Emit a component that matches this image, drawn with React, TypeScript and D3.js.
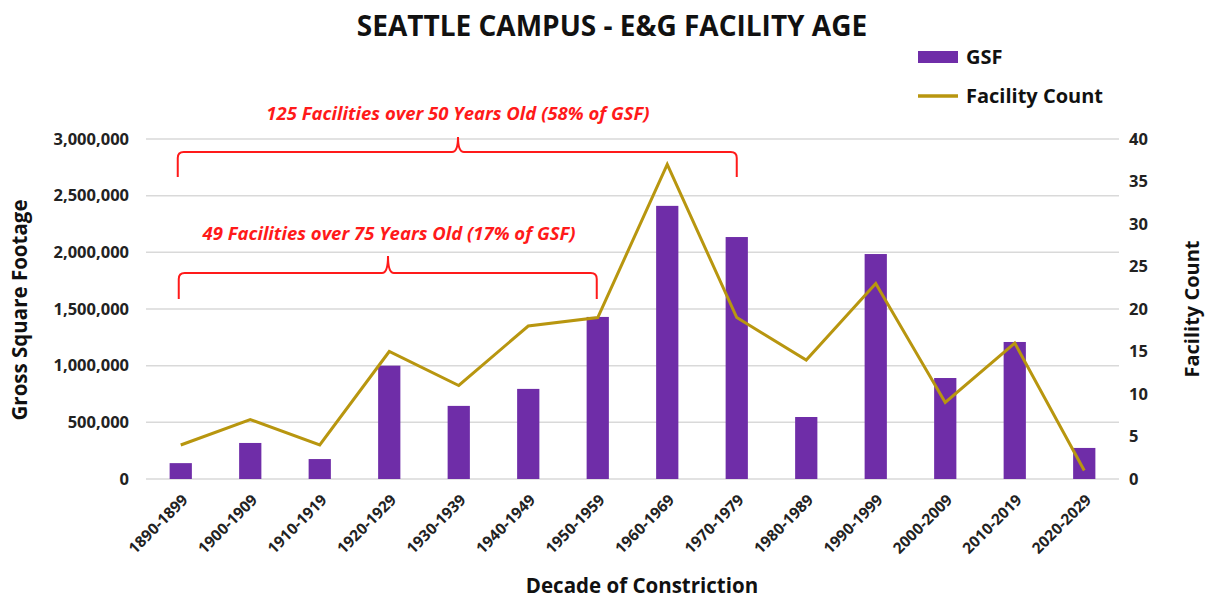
import React, { useEffect } from "react";
import * as d3 from "d3";

const categories = [
  "1890-1899", "1900-1909", "1910-1919", "1920-1929", "1930-1939", "1940-1949", "1950-1959",
  "1960-1969", "1970-1979", "1980-1989", "1990-1999", "2000-2009", "2010-2019", "2020-2029",
];
const gsfValues = [
  140000, 318000, 176000, 1000000, 645000, 795000, 1430000,
  2410000, 2135000, 547000, 1985000, 891000, 1209000, 274000,
];
const facilityCounts = [4, 7, 4, 15, 11, 18, 19, 37, 19, 14, 23, 9, 16, 1];
const leftTicks = [0, 500000, 1000000, 1500000, 2000000, 2500000, 3000000];
const rightTicks = [0, 5, 10, 15, 20, 25, 30, 35, 40];

const W = 1208;
const H = 599;
const FONT = "'Open Sans', 'DejaVu Sans', sans-serif";
const PURPLE = "#6f2da8";
const GOLD = "#b8960f";
const RED = "#ff1a1a";

export default function App() {
  useEffect(() => {
    document.body.style.margin = "0";
  }, []);

  const x = d3.scaleBand<string>().domain(categories).range([146, 1119]).paddingInner(0.68).paddingOuter(0.34);
  const yL = d3.scaleLinear().domain([0, 3000000]).range([479, 139]);
  const yR = d3.scaleLinear().domain([0, 40]).range([479, 139]);
  const fmt = d3.format(",");
  const cx = (c: string) => (x(c) as number) + x.bandwidth() / 2;

  const line = d3
    .line<number>()
    .x((_, i) => cx(categories[i]))
    .y((d) => yR(d));

  const brace = (x1: number, x2: number, xm: number, yTop: number, yH: number, yEnd: number) => {
    const r = 6;
    return (
      `M${x1},${yEnd} L${x1},${yH + r} Q${x1},${yH} ${x1 + r},${yH} ` +
      `L${xm - r},${yH} Q${xm},${yH} ${xm},${yTop} Q${xm},${yH} ${xm + r},${yH} ` +
      `L${x2 - r},${yH} Q${x2},${yH} ${x2},${yH + r} L${x2},${yEnd}`
    );
  };

  return (
    <svg width={W} height={H} style={{ display: "block", background: "#fff" }} fontFamily={FONT}>
      <text x={612} y={36} textAnchor="middle" fontSize={28} fontWeight={700} fill="#111">
        SEATTLE CAMPUS - E&amp;G FACILITY AGE
      </text>

      {/* gridlines */}
      {leftTicks.map((t) => (
        <line key={t} x1={146} x2={1119} y1={yL(t)} y2={yL(t)} stroke="#d9d9d9" strokeWidth={1.5} />
      ))}

      {/* left ticks */}
      {leftTicks.map((t) => (
        <text key={t} x={129} y={yL(t)} dy="0.35em" textAnchor="end" fontSize={16.5} fontWeight={700} fill="#222">
          {fmt(t)}
        </text>
      ))}
      {/* right ticks */}
      {rightTicks.map((t) => (
        <text key={t} x={1129} y={yR(t)} dy="0.35em" textAnchor="start" fontSize={16.5} fontWeight={700} fill="#222">
          {t}
        </text>
      ))}

      {/* bars */}
      {categories.map((c, i) => (
        <rect key={c} x={x(c)} y={yL(gsfValues[i])} width={x.bandwidth()} height={yL(0) - yL(gsfValues[i])} fill={PURPLE} />
      ))}

      {/* line */}
      <path d={line(facilityCounts) || ""} fill="none" stroke={GOLD} strokeWidth={3} strokeLinejoin="miter" />

      {/* x labels */}
      {categories.map((c) => (
        <text
          key={c}
          transform={`translate(${cx(c) + 8},${501}) rotate(-45)`}
          textAnchor="end"
          fontSize={15.5}
          fontWeight={700}
          fill="#222"
        >
          {c}
        </text>
      ))}

      {/* axis titles */}
      <text transform="translate(27,310) rotate(-90)" textAnchor="middle" fontSize={20.5} fontWeight={700} fill="#111">
        Gross Square Footage
      </text>
      <text transform="translate(1199,309) rotate(-90)" textAnchor="middle" fontSize={20} fontWeight={700} fill="#111">
        Facility Count
      </text>
      <text x={642} y={593} textAnchor="middle" fontSize={20.5} fontWeight={700} fill="#111">
        Decade of Constriction
      </text>

      {/* legend */}
      <rect x={918} y={51} width={40} height={12} fill={PURPLE} />
      <text x={966} y={57} dy="0.35em" fontSize={20} fontWeight={700} fill="#111">GSF</text>
      <line x1={918} x2={958} y1={96} y2={96} stroke={GOLD} strokeWidth={3.5} />
      <text x={966} y={96} dy="0.35em" fontSize={20} fontWeight={700} fill="#111">Facility Count</text>

      {/* annotations */}
      <path d={brace(cx(categories[0]) - 3, cx(categories[8]), 458, 137, 152, 177)} fill="none" stroke={RED} strokeWidth={2} />
      <text x={458} y={120} textAnchor="middle" fontSize={18.5} fontWeight={700} fontStyle="italic" fill={RED}>
        125 Facilities over 50 Years Old (58% of GSF)
      </text>
      <path d={brace(cx(categories[0]) - 2, cx(categories[6]) - 1, 388, 256, 273, 299)} fill="none" stroke={RED} strokeWidth={2} />
      <text x={389} y={240} textAnchor="middle" fontSize={18.5} fontWeight={700} fontStyle="italic" fill={RED}>
        49 Facilities over 75 Years Old (17% of GSF)
      </text>
    </svg>
  );
}
